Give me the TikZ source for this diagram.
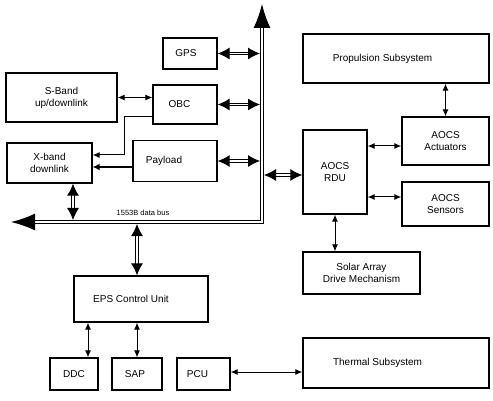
\documentclass[tikz,border=0pt]{standalone}
\usepackage{fontspec}
\setmainfont{Liberation Sans}
\usetikzlibrary{arrows.meta}
\begin{document}
\begin{tikzpicture}[x=1pt,y=-1pt,
  box/.style={draw,line width=1.3pt,inner sep=0pt,font=\fontsize{10}{12}\selectfont},
  box2/.style={box,align=center},
  lshift/.style={execute at begin node={\kern-#1pt}},
  thinarr/.style={line width=1pt,{Latex[length=7pt,width=6pt]}-{Latex[length=7pt,width=6pt]}},
  onearr/.style={line width=1pt,-{Latex[length=7pt,width=6pt]}},
  thickarr/.style={line width=2pt,-{Latex[length=7pt,width=7pt]}},
  dblarr/.style={double=white,double distance=1.2pt,line width=1pt,{Latex[length=12pt,width=12pt]}-{Latex[length=12pt,width=12pt]}},
  busline/.style={double=white,double distance=1.3pt,line width=1.3pt,{Latex[length=24pt,width=17pt]}-{Latex[length=24pt,width=17pt]}}
]
\useasboundingbox (0,0) rectangle (493,401);

% boxes
\node[box,minimum width=54pt,minimum height=31pt,lshift=8] (gps) at (190,53.5) {GPS};
\node[box2,minimum width=111pt,minimum height=49pt] (sband) at (61.5,97.5) {S-Band\\up/downlink};
\node[box,minimum width=64pt,minimum height=39pt,lshift=11] (obc) at (185,104.5) {OBC};
\node[box2,minimum width=85pt,minimum height=40pt] (xband) at (49.5,163) {X-band\\downlink};
\node[box,minimum width=84pt,minimum height=41pt,lshift=22] (payload) at (175,161) {Payload};
\node[box,minimum width=186pt,minimum height=49pt,lshift=27] (prop) at (396,58.5) {Propulsion Subsystem};
\node[box2,minimum width=87pt,minimum height=48pt] (act) at (445.5,141) {AOCS\\Actuators};
\node[box2,minimum width=64pt,minimum height=84pt] (rdu) at (335,172) {AOCS\\RDU};
\node[box2,minimum width=87pt,minimum height=44pt] (sens) at (445.5,204) {AOCS\\Sensors};
\node[box2,minimum width=117pt,minimum height=42pt] (sadm) at (361.5,273) {Solar Array\\Drive Mechanism};
\node[box,minimum width=134pt,minimum height=46pt,lshift=20] (eps) at (141,299) {EPS Control Unit};
\node[box,minimum width=48pt,minimum height=32pt] (ddc) at (74,374) {DDC};
\node[box,minimum width=50pt,minimum height=32pt,lshift=4] (sap) at (137,374) {SAP};
\node[box,minimum width=53pt,minimum height=32pt,lshift=12] (pcu) at (203.5,374) {PCU};
\node[box,minimum width=186pt,minimum height=50pt,lshift=37] (therm) at (396,363) {Thermal Subsystem};

% data bus
\coordinate (bc) at (262,222);
\coordinate (btop) at (262,4);
\coordinate (bleft) at (11,222);
\draw[busline] (bleft) -- (bc) -- (btop);
\node[font=\fontsize{7.5}{9}\selectfont,anchor=base] (buslabel) at (143,215) {1553B data bus};

% bus connections
\draw[dblarr,shorten >=2pt] (gps.east) -- (gps.east -| bc);
\draw[dblarr,shorten >=2pt] (obc.east) -- (obc.east -| bc);
\draw[dblarr,shorten >=2pt] (payload.east) -- (payload.east -| bc);
\coordinate (r1) at ([yshift=-3pt]rdu.west);
\draw[dblarr,shorten <=2pt] (r1 -| bc) -- (r1);
\coordinate (x1) at ([xshift=23.5pt]xband.south);
\draw[dblarr,shorten >=2pt] (x1) -- (x1 |- bc);
\coordinate (e1) at ([xshift=-4pt]eps.north);
\draw[dblarr,shorten <=2pt] (e1 |- bc) -- (e1);

% thin connectors
\draw[thinarr] (sband.east) -- (sband.east -| obc.west);
\coordinate (o1) at ([yshift=-12.5pt]obc.west);
\coordinate (x2) at ([yshift=8pt]xband.east);
\draw[onearr] (o1) -- ++(-28,0) |- (x2);
\coordinate (p1) at ([yshift=-6pt]payload.west);
\draw[thickarr] (p1) -- (p1 -| xband.east);

\draw[thinarr] (act.north) -- (act.north |- prop.south);
\coordinate (a1) at ([yshift=-5pt]act.west);
\draw[thinarr] (a1 -| rdu.east) -- (a1);
\coordinate (s1) at ([yshift=7pt]sens.west);
\draw[thinarr] (s1 -| rdu.east) -- (s1);
\draw[thinarr] (rdu.south) -- (rdu.south |- sadm.north);

\coordinate (d1) at ([xshift=14pt]ddc.north);
\draw[thinarr] (d1) -- (d1 |- eps.south);
\draw[thinarr] (sap.north) -- (sap.north |- eps.south);
\coordinate (c1) at ([yshift=2pt]pcu.east);
\draw[thinarr] (c1) -- (c1 -| therm.west);
\end{tikzpicture}
\end{document}
